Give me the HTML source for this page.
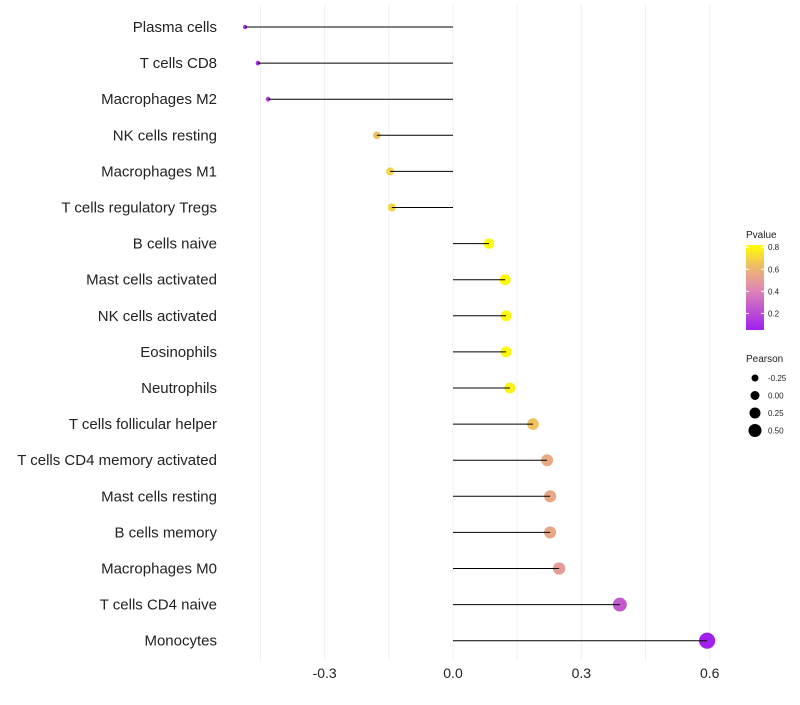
<!DOCTYPE html>
<html><head><meta charset="utf-8"><style>
body{margin:0;background:#fff;font-family:"Liberation Sans",sans-serif}
</style></head><body>
<svg id="chart" width="800" height="700"></svg>
<script>
const categories=["Plasma cells","T cells CD8","Macrophages M2","NK cells resting","Macrophages M1","T cells regulatory  Tregs","B cells naive","Mast cells activated","NK cells activated","Eosinophils","Neutrophils","T cells follicular helper","T cells CD4 memory activated","Mast cells resting","B cells memory","Macrophages M0","T cells CD4 naive","Monocytes"];
const pearson=[-0.486,-0.456,-0.432,-0.178,-0.147,-0.143,0.084,0.122,0.124,0.124,0.133,0.187,0.22,0.227,0.227,0.248,0.39,0.594];
const pvalues=[0.1,0.1,0.15,0.65,0.7,0.7,0.85,0.8,0.8,0.8,0.78,0.65,0.57,0.56,0.56,0.52,0.25,0.05];
const xTicks=[-0.3,0,0.3,0.6];
const xTickLabels=["-0.3","0.0","0.3","0.6"];
const pTicks=[0.2,0.4,0.6,0.8];
const sizeTicks=[-0.25,0,0.25,0.5];
const sizeTickLabels=["-0.25","0.00","0.25","0.50"];

const NS="http://www.w3.org/2000/svg";
const svg=document.getElementById('chart');
function el(t,a,p){const e=document.createElementNS(NS,t);for(const k in a)e.setAttribute(k,a[k]);(p||svg).appendChild(e);return e;}
const x=v=>453+v*427.8;
const y=i=>27+i*36.1;
const r=v=>Math.max(1.5,4.8+v*5.5);
function lerp(a,b,t){return a.map((c,i)=>Math.round(c+(b[i]-c)*t));}
function color(p){
  const t=Math.min(1,Math.max(0,(p-0.05)/(0.82-0.05)));
  const s=[[160,32,240],[225,140,175],[255,255,0]];
  const c=t<0.5?lerp(s[0],s[1],t*2):lerp(s[1],s[2],Math.pow((t-0.5)*2,1.3));
  return `rgb(${c})`;
}
for(let v=-0.45;v<=0.61;v+=0.15){
  const g=el('line',{x1:x(v),x2:x(v),y1:5,y2:660,stroke:'#f0f0f0','stroke-width':1});
  
}
xTicks.forEach((v,i)=>{
  const t=el('text',{x:x(v),y:678,'text-anchor':'middle','font-size':14,fill:'#222'});
  t.textContent=xTickLabels[i];
  
});
categories.forEach((c,i)=>{
  const t=el('text',{x:217,y:y(i)+5,'text-anchor':'end','font-size':15,fill:'#222'});
  t.textContent=c;
  
  const d=el('circle',{cx:x(pearson[i]),cy:y(i),r:r(pearson[i]),fill:color(pvalues[i])});
  
  const l=el('line',{x1:x(0),x2:x(pearson[i]),y1:y(i),y2:y(i),stroke:'#000','stroke-width':1});
  
});
const lt=el('text',{x:746,y:238,'font-size':10,fill:'#222'});lt.textContent='Pvalue';

const defs=el('defs',{});
const lg=el('linearGradient',{id:'pg',x1:0,y1:1,x2:0,y2:0},defs);
[0,0.25,0.5,0.75,1].forEach(o=>el('stop',{offset:o,'stop-color':color(0.05+o*0.77)},lg));
const py=p=>330-(p-0.05)/(0.77)*(330-245);
const bar=el('rect',{x:746,y:245,width:18,height:85,fill:'url(#pg)'});

pTicks.forEach(p=>{
  el('line',{x1:746,x2:749,y1:py(p),y2:py(p),stroke:'#fff'});
  el('line',{x1:761,x2:764,y1:py(p),y2:py(p),stroke:'#fff'});
  const t=el('text',{x:768,y:py(p)+3,'font-size':8,fill:'#222'});t.textContent=p.toFixed(1);
  
});
const st=el('text',{x:746,y:362,'font-size':10,fill:'#222'});st.textContent='Pearson';

sizeTicks.forEach((v,i)=>{
  const yy=378+i*17.5;
  const c=el('circle',{cx:755,cy:yy,r:3.5+i*1,fill:'#000'});
  
  const t=el('text',{x:768,y:yy+3,'font-size':8,fill:'#222'});t.textContent=sizeTickLabels[i];
  
});
</script>
</body></html>
